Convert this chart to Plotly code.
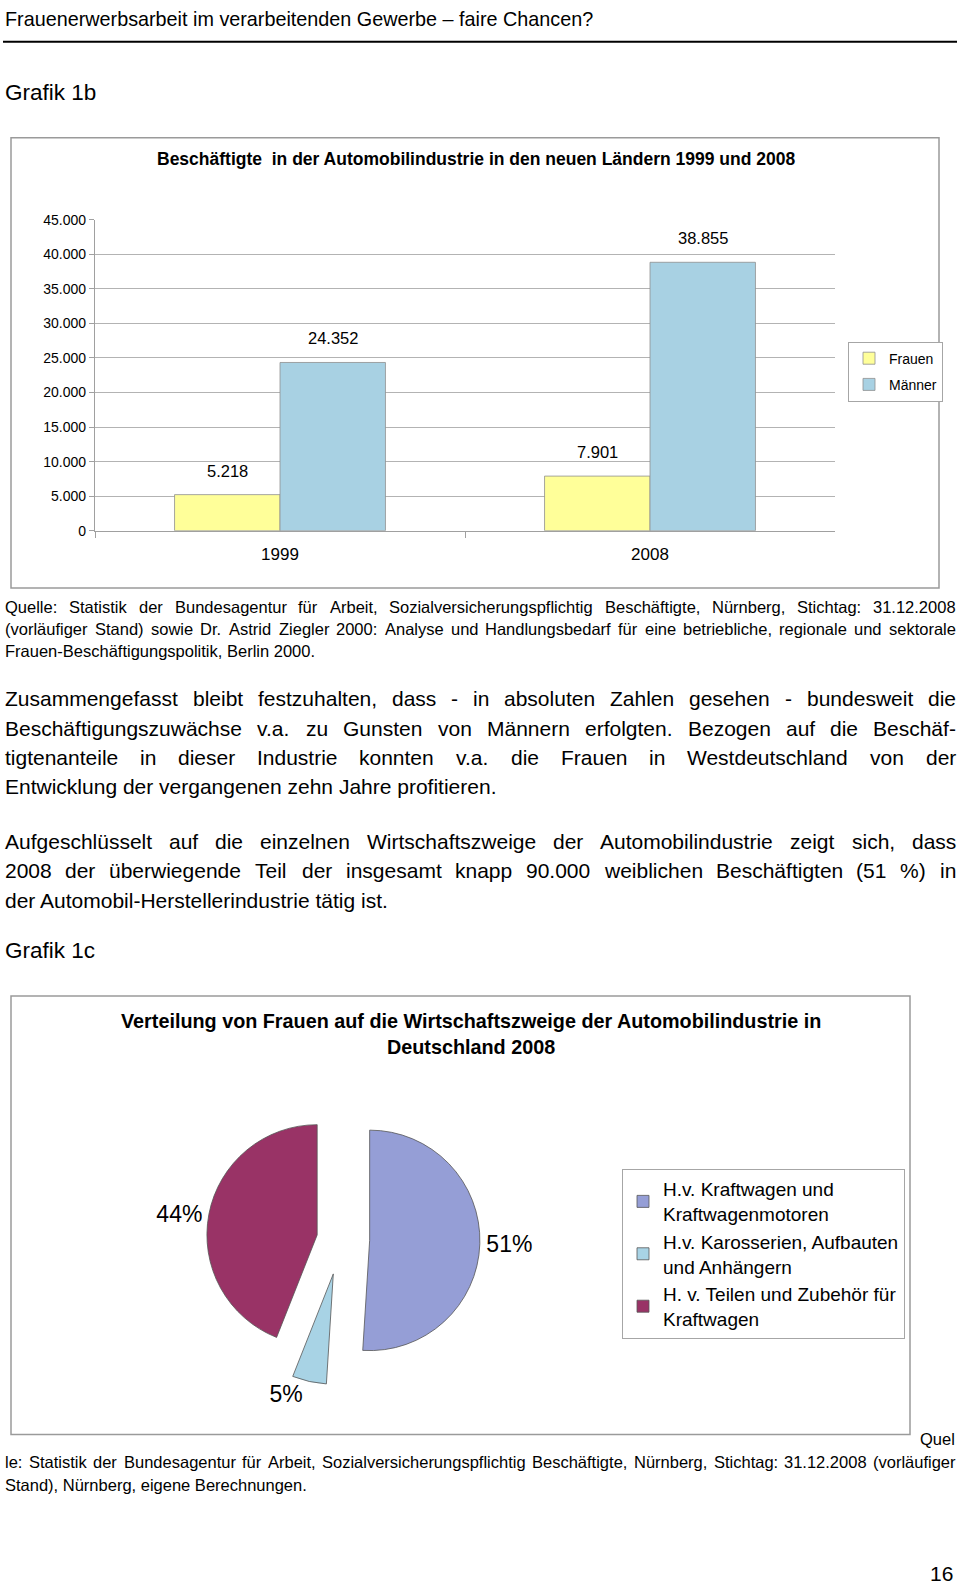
import plotly.graph_objects as go

# ---------------- data ----------------
years = ["1999", "2008"]
frauen = [5218, 7901]
maenner = [24352, 38855]
y_ticks = [0, 5000, 10000, 15000, 20000, 25000, 30000, 35000, 40000, 45000]

pie_labels = ["H.v. Kraftwagen und<br>Kraftwagenmotoren",
              "H.v. Karosserien, Aufbauten<br>und Anhängern",
              "H. v. Teilen und Zubehör für<br>Kraftwagen"]
pie_values = [51, 5, 44]

header = "Frauenerwerbsarbeit im verarbeitenden Gewerbe – faire Chancen?"
bar_title = "Beschäftigte  in der Automobilindustrie in den neuen Ländern 1999 und 2008"
pie_title = ["Verteilung von Frauen auf die Wirtschaftszweige der Automobilindustrie in",
             "Deutschland 2008"]
source1 = ["Quelle: Statistik der Bundesagentur für Arbeit, Sozialversicherungspflichtig Beschäftigte, Nürnberg, Stichtag: 31.12.2008",
           "(vorläufiger Stand)  sowie Dr. Astrid Ziegler 2000: Analyse und Handlungsbedarf für eine betriebliche, regionale und sektorale",
           "Frauen-Beschäftigungspolitik, Berlin 2000."]
para1 = ["Zusammengefasst bleibt festzuhalten, dass - in absoluten Zahlen gesehen - bundesweit die",
         "Beschäftigungszuwächse v.a. zu Gunsten von Männern erfolgten. Bezogen auf die Beschäf-",
         "tigtenanteile in dieser Industrie konnten v.a. die Frauen in Westdeutschland von der",
         "Entwicklung der vergangenen zehn Jahre profitieren."]
para2 = ["Aufgeschlüsselt auf die einzelnen Wirtschaftszweige der Automobilindustrie zeigt sich, dass",
         "2008 der überwiegende Teil der insgesamt knapp 90.000 weiblichen Beschäftigten (51 %) in",
         "der Automobil-Herstellerindustrie tätig ist."]
source2 = ["le: Statistik der Bundesagentur für Arbeit, Sozialversicherungspflichtig Beschäftigte, Nürnberg, Stichtag: 31.12.2008 (vorläufiger",
           "Stand), Nürnberg, eigene Berechnungen."]

# ---------------- helpers ----------------
W, H = 960, 1589
FONT = "Liberation Sans, Arial, sans-serif"


def px(x):
    return x / W


def py(y):
    return 1 - y / H


AW = {' ': 278, '!': 278, '(': 333, ')': 333, ',': 278, '-': 333, '.': 278, '/': 278, ':': 278,
      '%': 889, '?': 556, '–': 556,
      'A': 667, 'B': 667, 'C': 722, 'D': 722, 'E': 667, 'F': 611, 'G': 778, 'H': 722, 'I': 278,
      'J': 500, 'K': 667, 'L': 556, 'M': 833, 'N': 722, 'O': 778, 'P': 667, 'Q': 778, 'R': 722,
      'S': 667, 'T': 611, 'U': 722, 'V': 667, 'W': 944, 'X': 667, 'Y': 667, 'Z': 611,
      'a': 556, 'b': 556, 'c': 500, 'd': 556, 'e': 556, 'f': 278, 'g': 556, 'h': 556, 'i': 222,
      'j': 222, 'k': 500, 'l': 222, 'm': 833, 'n': 556, 'o': 556, 'p': 556, 'q': 556, 'r': 333,
      's': 500, 't': 278, 'u': 556, 'v': 500, 'w': 722, 'x': 500, 'y': 500, 'z': 500,
      'ä': 556, 'ö': 556, 'ü': 556, 'ß': 611, 'Ä': 667, 'Ö': 778, 'Ü': 722}


def tw(s, size):
    return sum(AW.get(c, 556) for c in s) / 1000 * size


annotations = []


def text(t, x, y, size, anchor="left", bold=False):
    annotations.append(dict(
        text=("<b>%s</b>" % t) if bold else t, x=px(x), y=py(y), xref="paper", yref="paper",
        xanchor=anchor, yanchor="middle", showarrow=False, borderpad=0, borderwidth=0,
        font=dict(family=FONT, size=size, color="black")))


def line(t, y, size, justify, x0=5, x1=956):
    if not justify:
        text(t, x0, y, size)
        return
    words = t.split()
    total = sum(tw(w, size) for w in words)
    gap = (x1 - x0 - total) / (len(words) - 1)
    x = x0
    for w in words:
        text(w, x, y, size)
        x += tw(w, size) + gap


# ---------------- page text ----------------
text(header, 5, 11, 19.8)
text("Grafik 1b", 5, 85, 22.5)
text(bar_title, 476, 153, 17.5, anchor="center", bold=True)

for i, (t, y) in enumerate(zip(source1, [605, 627.5, 650])):
    line(t, y, 16.5, i < 2)
for i, (t, y) in enumerate(zip(para1, [698, 727.6, 757.2, 786.8])):
    line(t, y, 21, i < 3)
for i, (t, y) in enumerate(zip(para2, [842, 871.6, 901.2])):
    line(t, y, 21, i < 2)
text("Grafik 1c", 5, 952, 22.5)
text(pie_title[0], 471, 1023, 19.8, anchor="center", bold=True)
text(pie_title[1], 471, 1050, 19.8, anchor="center", bold=True)
text("Quel", 955, 1446, 16.5, anchor="right")
for i, (t, y) in enumerate(zip(source2, [1469, 1492])):
    line(t, y, 16.5, i < 1)
text("16", 953, 1581, 21, anchor="right")


def de(v):
    return f"{v:,}".replace(",", ".")


# bar value labels (x given as category index on the category axis)
for xs, vals in ((-52.5, frauen), (52.5, maenner)):
    for i, v in enumerate(vals):
        annotations.append(dict(
            text=de(v), x=i, y=v, xref="x", yref="y", xshift=xs, yshift=24,
            xanchor="center", yanchor="middle", showarrow=False,
            font=dict(family=FONT, size=16.5, color="black")))

# ---------------- figure ----------------
fig = go.Figure()
fig.add_trace(go.Bar(name="Frauen", x=years, y=frauen, legendgroup="f",
                     marker=dict(color="#FFFF99", line=dict(color="#8f8f8f", width=0.8)),
                     legend="legend"))
fig.add_trace(go.Bar(name="Männer", x=years, y=maenner, legendgroup="m",
                     marker=dict(color="#A8D1E3", line=dict(color="#8f8f8f", width=0.8)),
                     legend="legend"))

fig.add_trace(go.Pie(
    labels=pie_labels, values=pie_values, sort=False, direction="clockwise", rotation=0,
    pull=[0.26, 0.32, 0.22], textinfo="percent", textposition="outside",
    texttemplate="%{percent:.0%}",
    textfont=dict(family=FONT, size=23, color="black"),
    marker=dict(colors=["#959ED6", "#A8D3E5", "#993366"], line=dict(color="#555555", width=0.8)),
    domain=dict(x=[px(194), px(488)], y=[py(1391), py(1097)]),
    legend="legend2", automargin=False, hoverinfo="label+percent"))

shapes = [
    dict(type="line", xref="paper", yref="paper", x0=px(3), x1=px(957), y0=py(34), y1=py(34),
         line=dict(color="black", width=2)),
    dict(type="rect", xref="paper", yref="paper", x0=px(11), x1=px(939), y0=py(586), y1=py(131),
         line=dict(color="#9a9a9a", width=1.5)),
    dict(type="rect", xref="paper", yref="paper", x0=px(11), x1=px(910), y0=py(1441), y1=py(998),
         line=dict(color="#9a9a9a", width=1.5)),
]

fig.update_layout(
    width=W, height=H, margin=dict(l=0, r=0, t=0, b=0),
    paper_bgcolor="white", plot_bgcolor="white",
    separators=",.",
    font=dict(family=FONT, color="black"),
    barmode="group", bargap=0.43, bargroupgap=0,
    xaxis=dict(domain=[px(95), px(835)], type="category", range=[-0.5, 1.5],
               autorange=False, showgrid=False,
               showline=True, linecolor="#a0a0a0", linewidth=1.3,
               ticks="outside", tickson="boundaries", ticklen=6, tickcolor="#a0a0a0",
               tickfont=dict(family=FONT, size=17, color="black"), ticklabelstandoff=8),
    yaxis=dict(domain=[py(528), py(214)], range=[0, 45000], autorange=False, tickvals=y_ticks,
               tickformat=",d", showgrid=True, gridcolor="#b3b3b3", gridwidth=1.3,
               zeroline=False, showline=True, linecolor="#a0a0a0", linewidth=1.3,
               ticks="outside", ticklen=5, tickcolor="#a0a0a0",
               tickfont=dict(family=FONT, size=14, color="black")),
    legend=dict(x=px(848), y=py(337), xanchor="left", yanchor="top",
                bordercolor="#a6a6a6", borderwidth=1, bgcolor="white",
                font=dict(family=FONT, size=14, color="black"),
                traceorder="grouped", tracegroupgap=5),
    legend2=dict(x=px(622), y=py(1173), xanchor="left", yanchor="top",
                 bordercolor="#a6a6a6", borderwidth=1, bgcolor="white",
                 font=dict(family=FONT, size=19, color="black")),
    shapes=shapes,
    annotations=annotations,
)

fig.write_html("out.html")
